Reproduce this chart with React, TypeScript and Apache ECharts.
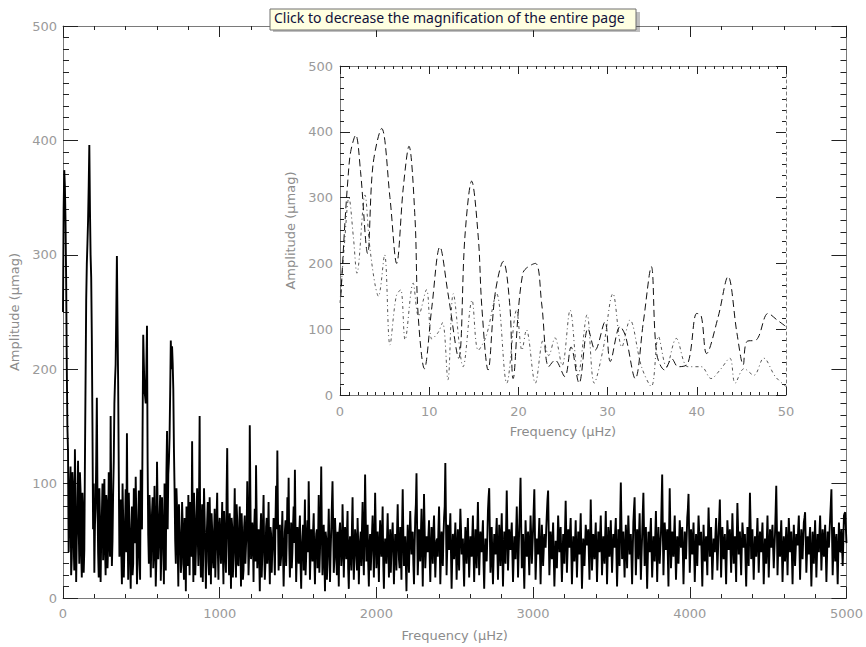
import React, { useEffect, useRef } from "react";
import * as echarts from "echarts";

// Periodogram sampled every FREQ_STEP µHz from 0 to 5000 µHz.
// ampBandN hold the samples at multiples of 2·FREQ_STEP, ampMidN the samples in between.
const FREQ_STEP = 4;

// Amplitudes (µmag), 0–992 µHz
const ampBand0 = [
  250, 374, 330, 205, 128, 62, 115, 35, 98, 24, 88, 52, 120, 30, 94, 18, 76, 42, 190, 292, 330, 396, 300, 227, 60,
  22, 78, 175, 40, 96, 14, 72, 33, 104, 20, 82, 45, 68, 159, 28, 92, 170, 204, 299, 188, 36, 86, 12, 70, 44,
  95, 144, 16, 62, 8, 80, 30, 58, 106, 12, 66, 40, 112, 60, 230, 181, 170, 238, 55, 90, 18, 74, 26, 98, 10,
  119, 34, 70, 15, 88, 46, 100, 24, 146, 108, 140, 225, 220, 182, 95, 30, 78, 10, 64, 22, 84, 38, 70, 6, 58,
  90, 20, 62, 137, 14, 72, 40, 96, 28, 159, 18, 82, 48, 70, 8, 66, 32, 88, 12, 60, 26, 78, 44, 92, 16,
];
const ampMid0 = [
  340, 360, 280, 150, 40, 96, 20, 110, 48, 130, 14, 72, 64, 110, 40, 92, 22, 120, 260, 310, 360, 340, 280, 150, 100,
  64, 120, 90, 18, 70, 52, 100, 60, 44, 90, 26, 110, 36, 84, 50, 120, 190, 250, 240, 110, 60, 40, 100, 18, 64,
  40, 68, 92, 36, 58, 20, 96, 48, 70, 30, 94, 16, 80, 150, 205, 176, 200, 120, 30, 70, 50, 88, 40, 60, 34,
  78, 52, 90, 40, 64, 12, 70, 110, 60, 120, 180, 200, 205, 130, 50, 96, 44, 82, 50, 30, 62, 16, 54, 80, 28,
  50, 84, 36, 60, 92, 20, 66, 54, 80, 44, 60, 14, 96, 40, 50, 84, 20, 58, 74, 34, 56, 18, 70, 42, 60,
];
// 1000–1992 µHz
const ampBand1 = [
  70, 30, 84, 12, 58, 22, 131, 40, 74, 8, 62, 36, 96, 18, 68, 28, 80, 10, 55, 24, 72, 46, 102, 20, 151,
  34, 66, 14, 78, 116, 26, 60, 6, 74, 38, 90, 16, 62, 30, 84, 12, 56, 44, 70, 20, 98, 129, 24, 64, 36,
  76, 10, 58, 28, 88, 105, 18, 66, 40, 80, 112, 14, 62, 30, 72, 8, 54, 24, 86, 36, 68, 102, 16, 60, 32,
  74, 12, 56, 26, 90, 40, 115, 20, 64, 6, 52, 30, 78, 14, 60, 102, 22, 70, 36, 58, 10, 66, 28, 82, 18,
  62, 34, 76, 8, 54, 24, 88, 16, 60, 38, 70, 12, 50, 28, 84, 20, 108, 32, 64, 10, 56, 40, 72, 18, 92,
];
const ampMid1 = [
  48, 56, 40, 76, 36, 90, 64, 20, 52, 70, 18, 60, 44, 82, 30, 56, 48, 74, 16, 62, 30, 58, 66, 40, 88,
  44, 50, 60, 32, 70, 54, 36, 58, 18, 64, 42, 30, 70, 52, 40, 62, 22, 50, 42, 66, 60, 70, 46, 28, 54,
  40, 36, 68, 50, 56, 44, 40, 26, 62, 48, 60, 36, 46, 58, 30, 42, 64, 52, 20, 56, 40, 62, 38, 48, 58,
  34, 44, 60, 50, 22, 70, 56, 42, 36, 58, 16, 52, 46, 40, 60, 64, 34, 54, 20, 44, 58, 48, 40, 56, 42,
  50, 56, 26, 46, 38, 62, 44, 36, 54, 24, 48, 36, 58, 60, 40, 62, 70, 42, 30, 46, 24, 56, 44, 50, 60,
];
// 2000–2992 µHz
const ampBand2 = [
  26, 58, 14, 68, 36, 80, 8, 52, 30, 74, 18, 60, 42, 66, 12, 56, 24, 82, 34, 62, 16, 95, 28, 54, 6,
  64, 22, 76, 38, 58, 12, 70, 109, 20, 60, 32, 78, 10, 91, 26, 54, 40, 68, 14, 62, 30, 72, 18, 50, 36,
  80, 12, 58, 28, 70, 118, 20, 64, 42, 74, 8, 56, 34, 66, 16, 60, 24, 78, 38, 52, 10, 62, 30, 70, 18,
  54, 36, 72, 14, 60, 26, 84, 20, 58, 40, 68, 8, 52, 32, 76, 96, 22, 62, 12, 56, 38, 70, 16, 64, 28,
  74, 10, 58, 30, 94, 24, 60, 42, 66, 14, 54, 34, 80, 18, 62, 105, 26, 56, 8, 68, 36, 58, 20, 72, 30,
];
const ampMid2 = [
  44, 36, 48, 50, 56, 30, 40, 44, 52, 46, 38, 22, 54, 40, 36, 48, 58, 50, 26, 40, 62, 56, 44, 30, 42,
  40, 52, 56, 46, 30, 44, 82, 60, 38, 46, 56, 44, 50, 60, 40, 48, 54, 36, 42, 48, 58, 44, 36, 52, 60,
  50, 36, 44, 54, 80, 70, 42, 56, 58, 40, 34, 48, 50, 44, 38, 40, 54, 60, 46, 30, 40, 48, 52, 44, 36,
  46, 54, 40, 38, 44, 56, 50, 40, 48, 54, 30, 36, 46, 52, 88, 58, 40, 36, 34, 48, 56, 42, 38, 50, 52,
  40, 36, 46, 62, 58, 42, 50, 54, 38, 34, 46, 58, 50, 40, 82, 64, 42, 30, 40, 52, 46, 38, 48, 54, 44,
];
// 3000–3992 µHz
const ampBand3 = [
  60, 95, 16, 52, 38, 70, 12, 64, 28, 56, 44, 74, 94, 20, 58, 34, 66, 10, 50, 26, 72, 40, 62, 14, 56,
  30, 85, 22, 60, 44, 70, 12, 54, 32, 68, 18, 58, 38, 74, 8, 52, 28, 64, 46, 60, 16, 86, 24, 56, 34,
  66, 14, 58, 40, 72, 20, 54, 30, 76, 12, 62, 36, 68, 22, 56, 44, 70, 10, 60, 28, 101, 34, 58, 18, 64,
  26, 72, 38, 56, 12, 66, 88, 20, 60, 34, 74, 16, 54, 92, 28, 62, 8, 58, 40, 70, 18, 54, 32, 76, 14,
  62, 30, 56, 108, 20, 66, 42, 60, 10, 96, 26, 58, 36, 72, 16, 54, 30, 68, 44, 62, 12, 58, 34, 70, 91,
];
const ampMid3 = [
  78, 56, 34, 46, 54, 40, 38, 48, 42, 50, 60, 86, 56, 38, 46, 50, 36, 30, 40, 48, 56, 52, 36, 34, 44,
  60, 54, 40, 52, 58, 40, 34, 44, 50, 42, 38, 48, 56, 40, 30, 42, 46, 56, 52, 38, 50, 56, 40, 46, 52,
  40, 36, 50, 56, 46, 38, 42, 54, 44, 36, 50, 52, 44, 40, 50, 58, 38, 34, 46, 70, 64, 46, 38, 42, 48,
  50, 54, 46, 34, 40, 78, 52, 40, 48, 56, 44, 36, 74, 58, 46, 36, 34, 50, 56, 42, 36, 44, 56, 46, 40,
  46, 44, 82, 60, 44, 54, 50, 36, 58, 62, 40, 48, 56, 44, 34, 42, 50, 56, 52, 38, 36, 46, 52, 78, 56,
];
// 4000–5000 µHz
const ampBand4 = [
  22, 60, 38, 66, 14, 56, 28, 72, 46, 58, 10, 64, 32, 54, 20, 79, 36, 62, 16, 52, 40, 70, 24, 58, 86,
  18, 62, 34, 56, 12, 68, 42, 60, 22, 74, 30, 54, 14, 83, 38, 58, 20, 66, 44, 56, 10, 62, 28, 92, 34,
  60, 16, 54, 36, 70, 22, 58, 40, 66, 12, 52, 30, 72, 18, 60, 44, 64, 26, 56, 98, 20, 58, 36, 68, 14,
  54, 32, 62, 20, 70, 40, 58, 12, 64, 28, 56, 46, 72, 16, 60, 34, 66, 75, 22, 54, 38, 62, 10, 58, 30,
  68, 18, 56, 40, 72, 24, 60, 36, 64, 14, 58, 44, 70, 95, 20, 62, 32, 56, 12, 66, 40, 60, 28, 72, 75,
  48,
];
const ampMid4 = [
  42, 48, 52, 40, 36, 44, 50, 58, 52, 34, 38, 46, 44, 36, 52, 58, 48, 40, 34, 46, 56, 48, 40, 70, 54,
  40, 48, 46, 34, 40, 56, 50, 42, 48, 52, 42, 34, 52, 62, 48, 38, 44, 56, 50, 32, 36, 46, 60, 66, 48,
  38, 36, 46, 54, 48, 40, 50, 54, 40, 32, 42, 52, 46, 38, 52, 56, 44, 42, 76, 62, 40, 48, 54, 42, 34,
  44, 48, 42, 46, 56, 50, 36, 40, 48, 42, 52, 60, 44, 38, 48, 52, 70, 50, 38, 46, 52, 36, 34, 44, 50,
  42, 38, 48, 58, 50, 42, 48, 52, 40, 36, 52, 58, 82, 56, 40, 48, 46, 34, 40, 54, 50, 44, 50, 74, 62,
];

// Low-frequency zoom, two spectra (µHz, µmag)
const insetFreqA = [
  0.1, 0.5, 0.9, 1.2, 1.76, 2.3, 3.1, 3.7, 4.67, 5.6, 6.35, 7.1, 7.73, 8.4, 8.75, 9.46, 10.3, 11.2, 12.1, 13.3,
  14.0, 14.76, 15.5, 15.9, 16.6, 17.4, 18.3, 19.05, 19.4, 20.5, 21.9, 22.6, 23.4, 24.1, 25.2, 25.9, 26.8, 27.8,
  28.6, 29.7, 30.3, 31.4, 32.0, 33.1, 34.0, 34.9, 35.5, 36.4, 37.2, 37.9, 39.0, 40.0, 40.5, 41.1, 42.4, 43.5,
  44.5, 45.2, 45.6, 46.7, 48.0, 49.0, 50,
];
const insetAmpA = [
  150, 250, 330, 370, 395, 340, 215, 350, 405, 300, 200, 316, 378, 271, 124, 40, 134, 225, 155, 56,
  240, 325, 240, 134, 38, 155, 203, 134, 25, 185, 200, 140, 43, 53, 28, 73, 18, 101,
  68, 111, 51, 104, 90, 25, 110, 195, 63, 38, 55, 43, 48, 124, 120, 63, 119, 180,
  94, 46, 81, 84, 124, 114, 104,
];
const insetFreqB = [
  0, 0.5, 1.0, 1.5, 1.9, 2.8, 3.3, 3.9, 4.3, 5.0, 5.6, 6.3, 6.8, 7.3, 8.2, 8.8, 9.7, 10.3, 11.0, 11.5,
  12.1, 12.7, 13.8, 14.8, 15.5, 16.4, 17.55, 18.7, 19.8, 20.4, 20.9, 21.9, 22.8, 23.4, 24.1, 24.9, 25.8, 26.7,
  27.7, 28.5, 29.5, 30.6, 31.6, 32.5, 33.8, 34.9, 35.7, 36.6, 37.7, 39.0, 40.5, 41.6, 42.6, 43.7, 44.3, 45.3,
  46.4, 47.5, 48.8, 50,
];
const insetAmpB = [
  140, 230, 300, 240, 185, 304, 230, 170, 150, 213, 76, 150, 160, 84, 170, 120, 160, 85, 95, 110,
  23, 154, 43, 144, 68, 90, 154, 18, 129, 68, 99, 18, 84, 60, 87, 45, 129, 30,
  122, 18, 70, 154, 73, 114, 43, 13, 89, 43, 86, 43, 43, 25, 38, 56, 18, 40,
  30, 56, 28, 13,
];

const TOOLTIP_TEXT = "Click to decrease the magnification of the entire page";

// Merge the two interleaved sample sets into one frequency-ordered series
const bands = [ampBand0, ampBand1, ampBand2, ampBand3, ampBand4];
const mids = [ampMid0, ampMid1, ampMid2, ampMid3, ampMid4];
const mainAmp: number[] = [];
bands.forEach((band, b) => {
  band.forEach((a, k) => {
    mainAmp.push(a);
    if (k < mids[b].length) mainAmp.push(mids[b][k]);
  });
});
const mainData = mainAmp.map((a, i) => [i * FREQ_STEP, a]);
const insetDataA = insetFreqA.map((f, i) => [f, insetAmpA[i]]);
const insetDataB = insetFreqB.map((f, i) => [f, insetAmpB[i]]);

const FONT = "DejaVu Sans";
const labelStyle = { color: "#9a9a9a", fontSize: 13, fontFamily: FONT };
const titleStyle = { color: "#8c8c8c", fontSize: 13, fontFamily: FONT };
const axisLineStyle = { color: "#7a7a7a", width: 1 };
const tickLineStyle = { color: "#222", width: 1 };

function axis(o: any) {
  const {
    gridIndex, position, min, max, interval, tickLen, minorSplit, minorLen,
    labels, labelMargin, name, nameGap, lineType,
  } = o;
  return {
    gridIndex,
    type: "value",
    position,
    min,
    max,
    interval,
    axisLine: { show: true, onZero: false, lineStyle: { ...axisLineStyle, type: lineType || "solid" } },
    axisTick: { show: true, inside: true, length: tickLen, lineStyle: tickLineStyle },
    minorTick: { show: true, splitNumber: minorSplit, length: minorLen, lineStyle: tickLineStyle },
    axisLabel: labels
      ? { show: true, margin: labelMargin, formatter: (v: number) => String(v), ...labelStyle }
      : { show: false },
    splitLine: { show: false },
    minorSplitLine: { show: false },
    name: name || "",
    nameLocation: "middle",
    nameGap: nameGap || 0,
    nameTextStyle: titleStyle,
  };
}

export default function App() {
  const ref = useRef<HTMLDivElement>(null);

  useEffect(() => {
    if (!ref.current) return;
    const chart = echarts.init(ref.current, undefined, { renderer: "svg" });
    chart.setOption({
      animation: false,
      backgroundColor: "#ffffff",
      grid: [
        { left: 63, top: 26, width: 787, height: 581, show: false },
        { left: 340, top: 66, width: 446, height: 329, show: true, backgroundColor: "#ffffff", borderWidth: 0 },
      ],
      xAxis: [
        axis({ gridIndex: 0, position: "bottom", min: 0, max: 5000, interval: 1000, tickLen: 11, minorSplit: 5, minorLen: 4,
          labels: true, labelMargin: 9, name: "Frequency (µHz)", nameGap: 31 }),
        axis({ gridIndex: 0, position: "top", min: 0, max: 5000, interval: 1000, tickLen: 11, minorSplit: 5, minorLen: 4 }),
        axis({ gridIndex: 1, position: "bottom", min: 0, max: 50, interval: 10, tickLen: 8, minorSplit: 10, minorLen: 3,
          labels: true, labelMargin: 10, name: "Frequency (µHz)", nameGap: 30 }),
        axis({ gridIndex: 1, position: "top", min: 0, max: 50, interval: 10, tickLen: 8, minorSplit: 10, minorLen: 3 }),
      ],
      yAxis: [
        axis({ gridIndex: 0, position: "left", min: 0, max: 500, interval: 100, tickLen: 15, minorSplit: 10, minorLen: 6,
          labels: true, labelMargin: 6, name: "Amplitude (µmag)", nameGap: 41 }),
        axis({ gridIndex: 0, position: "right", min: 0, max: 500, interval: 100, tickLen: 15, minorSplit: 10, minorLen: 6 }),
        axis({ gridIndex: 1, position: "left", min: 0, max: 500, interval: 100, tickLen: 10, minorSplit: 6, minorLen: 4,
          labels: true, labelMargin: 7, name: "Amplitude (µmag)", nameGap: 41 }),
        axis({ gridIndex: 1, position: "right", min: 0, max: 500, interval: 100, tickLen: 10, minorSplit: 6, minorLen: 4,
          lineType: [3, 3] }),
      ],
      series: [
        {
          type: "line",
          xAxisIndex: 0,
          yAxisIndex: 0,
          data: mainData,
          symbol: "none",
          lineStyle: { color: "#000", width: 1.9 },
        },
        {
          type: "line",
          xAxisIndex: 2,
          yAxisIndex: 2,
          data: insetDataB,
          symbol: "none",
          smooth: 0.35,
          lineStyle: { color: "#555", width: 1, type: [3, 3, 1, 3] },
        },
        {
          type: "line",
          xAxisIndex: 2,
          yAxisIndex: 2,
          data: insetDataA,
          symbol: "none",
          smooth: 0.35,
          lineStyle: { color: "#111", width: 1, type: [7, 4] },
        },
      ],
      graphic: [
        {
          type: "rect",
          z: 100,
          shape: { x: 273, y: 12, width: 367, height: 20 },
          style: { fill: "rgba(0,0,0,0.25)" },
        },
        {
          type: "rect",
          z: 101,
          shape: { x: 270, y: 9, width: 366, height: 21 },
          style: { fill: "#ffffe1", stroke: "#6e6e6e", lineWidth: 1 },
        },
        {
          type: "text",
          z: 102,
          x: 274,
          y: 10,
          style: { text: TOOLTIP_TEXT, font: '14px "Noto Sans"', fill: "#10103a" },
        },
      ],
    });
    return () => chart.dispose();
  }, []);

  return (
    <div
      ref={ref}
      style={{ position: "fixed", left: 0, top: 0, width: 866, height: 647 }}
    />
  );
}
